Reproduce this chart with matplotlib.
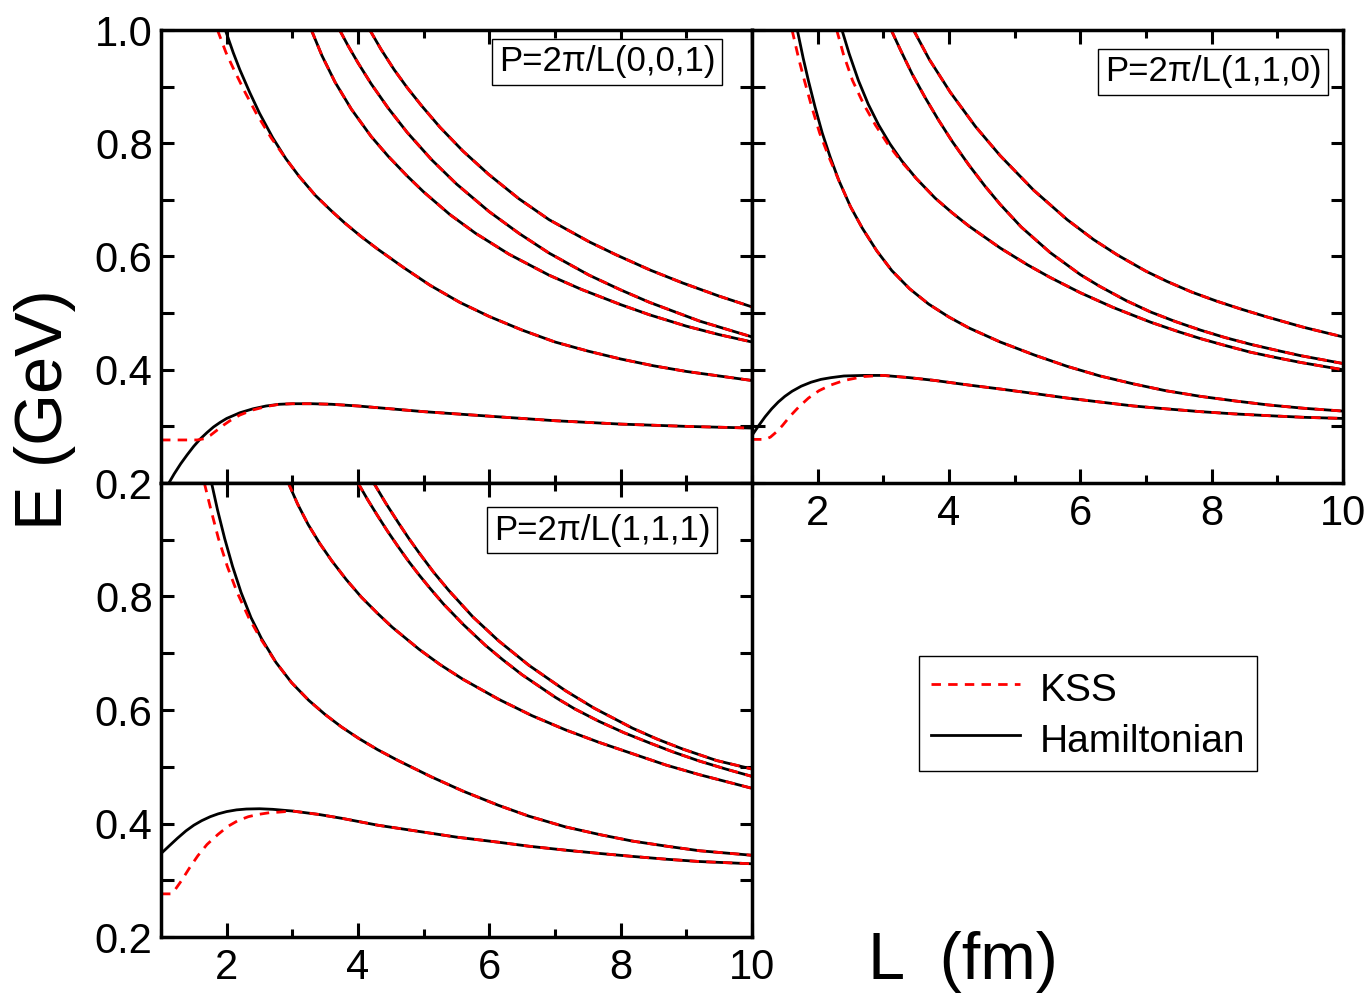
import matplotlib.pyplot as plt
from matplotlib.lines import Line2D
from matplotlib.ticker import MultipleLocator, FixedLocator, FixedFormatter

plt.rcParams['font.family'] = ['Liberation Sans', 'DejaVu Sans']

# Energy levels E (GeV) vs box size L (fm).
# Hamiltonian curves are full; KSS curves only differ near threshold / small L,
# so for those only the deviating head is listed and the rest follows the
# Hamiltonian curve.

# ---------- P = 2pi/L (0,0,1) ----------
gs001_L = [1.12, 1.2, 1.3, 1.4, 1.5, 1.6, 1.7, 1.8, 1.9, 2.0, 2.2, 2.4, 2.6, 2.8, 3.0,
           3.3, 3.6, 4.0, 4.5, 5.0, 5.5, 6.0, 7.0, 8.0, 9.0, 10.0]
gs001_E = [0.200, 0.216, 0.234, 0.250, 0.265, 0.278, 0.289, 0.299, 0.307, 0.314, 0.324,
           0.331, 0.336, 0.339, 0.340, 0.340, 0.339, 0.336, 0.331, 0.326, 0.322, 0.318,
           0.310, 0.304, 0.300, 0.297]
gs001_kss_L = [1.0, 1.55, 1.65, 1.75, 1.85, 1.95, 2.05, 2.2, 2.4, 2.6, 2.8, 3.0]
gs001_kss_E = [0.276, 0.276, 0.278, 0.284, 0.293, 0.302, 0.310, 0.320, 0.329, 0.335, 0.339, 0.340]
n1_001_L = [1.98, 2.1, 2.2, 2.35, 2.5, 2.7, 2.9, 3.1, 3.35, 3.6, 3.8, 4.05, 4.3, 4.7, 5.1,
            5.55, 6.0, 6.5, 7.0, 7.5, 8.0, 8.5, 9.0, 9.5, 10.0]
n1_001_E = [1.0, 0.96, 0.93, 0.89, 0.853, 0.81, 0.773, 0.742, 0.708, 0.68, 0.659, 0.635,
            0.613, 0.580, 0.549, 0.519, 0.494, 0.470, 0.449, 0.433, 0.419, 0.407, 0.397,
            0.389, 0.381]
n1_001_kss_L = [1.86, 1.99, 2.11, 2.28, 2.45, 2.675, 2.9]
n1_001_kss_E = [1.0, 0.96, 0.93, 0.89, 0.853, 0.81, 0.773]
n2_001_L = [3.29, 3.45, 3.65, 3.9, 4.2, 4.46, 4.75, 5.0, 5.4, 5.79, 6.3, 6.91, 7.4, 8.0,
            8.44, 9.0, 9.5, 10.0]
n2_001_E = [1.0, 0.955, 0.908, 0.86, 0.812, 0.777, 0.742, 0.714, 0.674, 0.641, 0.604,
            0.567, 0.542, 0.515, 0.497, 0.477, 0.462, 0.449]
n3_001_L = [3.72, 3.85, 4.0, 4.2, 4.46, 4.75, 5.12, 5.5, 6.0, 6.45, 6.91, 7.52, 8.0, 8.44,
            9.2, 10.0]
n3_001_E = [1.0, 0.972, 0.942, 0.905, 0.862, 0.819, 0.771, 0.728, 0.679, 0.641, 0.606,
            0.567, 0.541, 0.519, 0.486, 0.458]
n4_001_L = [4.18, 4.35, 4.55, 4.75, 4.97, 5.25, 5.6, 5.99, 6.45, 6.91, 7.52, 7.93, 8.45,
            8.95, 9.5, 10.0]
n4_001_E = [1.0, 0.966, 0.93, 0.898, 0.866, 0.828, 0.786, 0.745, 0.702, 0.665, 0.626,
            0.603, 0.576, 0.553, 0.530, 0.511]

# ---------- P = 2pi/L (1,1,0) ----------
gs110_L = [1.0, 1.1, 1.2, 1.3, 1.4, 1.5, 1.61, 1.75, 1.9, 2.05, 2.2, 2.4, 2.7, 3.0, 3.4,
           3.79, 4.3, 4.78, 5.3, 5.8, 6.3, 6.81, 7.3, 7.83, 8.35, 8.85, 9.4, 10.0]
gs110_E = [0.284, 0.301, 0.317, 0.331, 0.343, 0.353, 0.362, 0.371, 0.378, 0.383, 0.386,
           0.389, 0.390, 0.390, 0.386, 0.381, 0.373, 0.366, 0.358, 0.350, 0.343, 0.336,
           0.331, 0.326, 0.322, 0.319, 0.316, 0.314]
gs110_kss_L = [1.0, 1.2, 1.28, 1.37, 1.46, 1.58, 1.71, 1.86, 2.02, 2.2, 2.4, 2.7, 3.0]
gs110_kss_E = [0.277, 0.277, 0.281, 0.290, 0.301, 0.318, 0.334, 0.350, 0.363, 0.373,
               0.381, 0.388, 0.390]
n1_110_L = [1.69, 1.78, 1.86, 1.96, 2.07, 2.19, 2.32, 2.5, 2.68, 2.9, 3.13, 3.4, 3.69,
            4.0, 4.3, 4.78, 5.3, 5.8, 6.3, 6.81, 7.3, 7.83, 8.35, 8.85, 9.4, 10.0]
n1_110_E = [1.0, 0.95, 0.91, 0.864, 0.818, 0.776, 0.735, 0.688, 0.65, 0.61, 0.575, 0.543,
            0.516, 0.493, 0.474, 0.449, 0.426, 0.406, 0.389, 0.375, 0.363, 0.353, 0.345,
            0.338, 0.332, 0.327]
n1_110_kss_L = [1.61, 1.71, 1.80, 1.91, 2.03, 2.17, 2.32]
n1_110_kss_E = [1.0, 0.95, 0.91, 0.864, 0.818, 0.776, 0.735]
n2_110_L = [2.37, 2.48, 2.62, 2.77, 2.93, 3.1, 3.28, 3.5, 3.79, 4.05, 4.3, 4.78, 5.2, 5.54,
            6.0, 6.5, 7.07, 7.5, 7.83, 8.2, 8.59, 9.0, 9.35, 10.0]
n2_110_E = [1.0, 0.958, 0.911, 0.869, 0.832, 0.799, 0.769, 0.738, 0.703, 0.677, 0.654,
            0.615, 0.585, 0.563, 0.536, 0.510, 0.484, 0.467, 0.455, 0.443, 0.431, 0.421,
            0.413, 0.400]
n2_110_kss_L = [2.29, 2.39, 2.53, 2.70, 2.88, 3.065, 3.265, 3.5]
n2_110_kss_E = [1.0, 0.958, 0.911, 0.869, 0.832, 0.799, 0.769, 0.738]
n3_110_L = [3.12, 3.26, 3.44, 3.64, 3.84, 4.05, 4.3, 4.55, 4.78, 5.1, 5.54, 6.0, 6.3, 6.7,
            7.07, 7.45, 7.83, 8.2, 8.59, 9.0, 9.35, 10.0]
n3_110_E = [1.0, 0.965, 0.922, 0.88, 0.841, 0.803, 0.762, 0.724, 0.692, 0.652, 0.607,
            0.568, 0.547, 0.522, 0.502, 0.485, 0.470, 0.457, 0.445, 0.434, 0.425, 0.411]
n4_110_L = [3.46, 3.7, 4.02, 4.4, 4.78, 5.29, 5.8, 6.2, 6.56, 7.0, 7.32, 7.7, 8.08, 8.45,
            8.85, 9.4, 10.0]
n4_110_E = [1.0, 0.948, 0.89, 0.83, 0.778, 0.717, 0.665, 0.63, 0.603, 0.574, 0.556, 0.537,
            0.521, 0.507, 0.493, 0.475, 0.458]

# ---------- P = 2pi/L (1,1,1) ----------
gs111_L = [1.0, 1.12, 1.25, 1.38, 1.5, 1.62, 1.75, 1.87, 2.0, 2.15, 2.3, 2.5, 2.7, 3.0,
           3.4, 3.76, 4.3, 4.93, 5.5, 6.14, 6.6, 7.16, 7.7, 8.18, 8.7, 9.2, 9.6, 10.0]
gs111_E = [0.347, 0.360, 0.374, 0.387, 0.397, 0.405, 0.412, 0.417, 0.421, 0.424, 0.4255,
           0.426, 0.425, 0.422, 0.416, 0.409, 0.397, 0.386, 0.376, 0.367, 0.360, 0.353,
           0.347, 0.342, 0.337, 0.333, 0.331, 0.329]
gs111_kss_L = [1.0, 1.15, 1.2, 1.31, 1.43, 1.56, 1.7, 1.87, 2.02, 2.17, 2.33, 2.48, 2.65,
               2.79, 3.0]
gs111_kss_E = [0.276, 0.276, 0.281, 0.299, 0.321, 0.343, 0.363, 0.381, 0.395, 0.405,
               0.412, 0.416, 0.419, 0.420, 0.422]
n1_111_L = [1.77, 1.86, 1.97, 2.09, 2.22, 2.37, 2.53, 2.75, 2.99, 3.25, 3.5, 3.75, 4.01,
            4.3, 4.61, 5.12, 5.6, 6.14, 6.6, 7.16, 7.7, 8.18, 8.7, 9.2, 9.6, 10.0]
n1_111_E = [1.0, 0.953, 0.902, 0.853, 0.807, 0.763, 0.726, 0.684, 0.648, 0.617, 0.592,
            0.570, 0.550, 0.530, 0.511, 0.482, 0.457, 0.432, 0.413, 0.394, 0.380, 0.369,
            0.360, 0.352, 0.348, 0.344]
n1_111_kss_L = [1.66, 1.76, 1.875, 2.01, 2.16, 2.335, 2.515, 2.75]
n1_111_kss_E = [1.0, 0.953, 0.902, 0.853, 0.807, 0.763, 0.726, 0.684]
n2_111_L = [2.94, 3.08, 3.24, 3.42, 3.6, 3.82, 4.05, 4.3, 4.52, 4.93, 5.25, 5.6, 6.14,
            6.65, 7.16, 7.67, 8.18, 8.69, 9.2, 9.6, 10.0]
n2_111_E = [1.0, 0.963, 0.927, 0.893, 0.863, 0.83, 0.799, 0.77, 0.746, 0.707, 0.68, 0.654,
            0.619, 0.590, 0.565, 0.543, 0.523, 0.503, 0.486, 0.474, 0.462]
n3_111_L = [4.0, 4.15, 4.3, 4.45, 4.61, 4.77, 4.93, 5.1, 5.3, 5.6, 5.94, 6.2, 6.5, 7.01,
            7.3, 7.67, 8.05, 8.44, 8.8, 9.2, 9.6, 10.0]
n3_111_E = [1.0, 0.97, 0.942, 0.915, 0.888, 0.862, 0.838, 0.814, 0.787, 0.751, 0.714,
            0.689, 0.662, 0.622, 0.602, 0.580, 0.560, 0.542, 0.526, 0.510, 0.496, 0.483]
n4_111_L = [4.24, 4.42, 4.62, 4.77, 4.93, 5.15, 5.38, 5.75, 6.14, 6.6, 7.16, 7.6, 8.18,
            8.55, 8.95, 9.46, 10.0]
n4_111_E = [1.0, 0.965, 0.929, 0.903, 0.877, 0.843, 0.811, 0.764, 0.722, 0.679, 0.634,
            0.603, 0.568, 0.549, 0.531, 0.511, 0.496]

panel_labels = ['P=2\u03c0/L(0,0,1)', 'P=2\u03c0/L(1,1,0)', 'P=2\u03c0/L(1,1,1)']
x_ticks = [2, 4, 6, 8, 10]
y_ticks = [0.2, 0.4, 0.6, 0.8, 1.0]

# per panel: list of (hamiltonian L, hamiltonian E, kss head L, kss head E)
panels = [
    [(gs001_L, gs001_E, gs001_kss_L, gs001_kss_E),
     (n1_001_L, n1_001_E, n1_001_kss_L, n1_001_kss_E),
     (n2_001_L, n2_001_E, [], []),
     (n3_001_L, n3_001_E, [], []),
     (n4_001_L, n4_001_E, [], [])],
    [(gs110_L, gs110_E, gs110_kss_L, gs110_kss_E),
     (n1_110_L, n1_110_E, n1_110_kss_L, n1_110_kss_E),
     (n2_110_L, n2_110_E, n2_110_kss_L, n2_110_kss_E),
     (n3_110_L, n3_110_E, [], []),
     (n4_110_L, n4_110_E, [], [])],
    [(gs111_L, gs111_E, gs111_kss_L, gs111_kss_E),
     (n1_111_L, n1_111_E, n1_111_kss_L, n1_111_kss_E),
     (n2_111_L, n2_111_E, [], []),
     (n3_111_L, n3_111_E, [], []),
     (n4_111_L, n4_111_E, [], [])],
]


def kss_curve(hL, hE, kL, kE):
    # KSS head, then the shared part of the Hamiltonian curve
    if not kL:
        return hL, hE
    tail = [(l, e) for l, e in zip(hL, hE) if l > kL[-1]]
    return kL + [t[0] for t in tail], kE + [t[1] for t in tail]


W, H = 1371, 996
fig = plt.figure(figsize=(W / 100, H / 100), dpi=100)

# panel rectangles in pixels: left, top, right, bottom
boxes = [(161, 30, 752, 483), (752, 30, 1343, 483), (161, 483, 752, 937)]
label_pos = [(607, 62), (1213, 72), (602, 530)]

KSS_STYLE = dict(color='red', lw=2.0, dashes=(3.4, 2.6))
HAM_STYLE = dict(color='black', lw=2.0)
FS = 30

axes = []
for i, (l, t, r, b) in enumerate(boxes):
    ax = fig.add_axes([l / W, 1 - b / H, (r - l) / W, (b - t) / H])
    axes.append(ax)
    for hL, hE, kL, kE in panels[i]:
        ax.plot(hL, hE, **HAM_STYLE)
    for hL, hE, kL, kE in panels[i]:
        sL, sE = kss_curve(hL, hE, kL, kE)
        ax.plot(sL, sE, **KSS_STYLE)
    ax.set_xlim(1, 10)
    ax.set_ylim(0.2, 1.0)
    ax.xaxis.set_major_locator(FixedLocator(x_ticks))
    ax.xaxis.set_minor_locator(MultipleLocator(1))
    ax.yaxis.set_major_locator(FixedLocator(y_ticks))
    ax.yaxis.set_minor_locator(MultipleLocator(0.1))
    ax.tick_params(which='both', direction='in', top=True, right=True,
                   width=2.2, labelsize=FS)
    ax.tick_params(axis='x', which='major', length=10, pad=8)
    ax.tick_params(axis='x', which='minor', length=6)
    ax.tick_params(axis='y', which='both', length=9, pad=6)
    for sp in ax.spines.values():
        sp.set_linewidth(2.5)
    ax.text((label_pos[i][0] - l) / (r - l), 1 - (label_pos[i][1] - t) / (b - t),
            panel_labels[i], transform=ax.transAxes, ha='center', va='center',
            fontsize=25,
            bbox=dict(boxstyle='square,pad=0.2', fc='white', ec='black', lw=1.0))

ax1, ax2, ax3 = axes
ax1.tick_params(labelbottom=False)
ax1.yaxis.set_major_formatter(FixedFormatter(['0.2', '0.4', '0.6', '0.8', '1.0']))
ax2.tick_params(labelleft=False)
ax2.xaxis.set_major_formatter(FixedFormatter([str(v) for v in x_ticks]))
ax3.yaxis.set_major_formatter(FixedFormatter(['0.2', '0.4', '0.6', '0.8', '']))
ax3.xaxis.set_major_formatter(FixedFormatter([str(v) for v in x_ticks]))

fig.text(45 / W, 1 - 410 / H, 'E (GeV)', rotation=90, ha='center', va='center', fontsize=48)
fig.text(963 / W, 1 - 962 / H, 'L  (fm)', ha='center', va='center', fontsize=48)

handles = [Line2D([], [], **KSS_STYLE), Line2D([], [], **HAM_STYLE)]
leg = fig.legend(handles, ['KSS', 'Hamiltonian'], loc='upper left',
                 bbox_to_anchor=(919 / W, 1 - 656 / H), borderaxespad=0,
                 fontsize=28, frameon=True, fancybox=False, edgecolor='black',
                 framealpha=1, handlelength=2.3, handletextpad=0.5,
                 handleheight=1.2, borderpad=0.3, labelspacing=0.25)
leg.get_frame().set_linewidth(1.0)

fig.savefig('out.png', dpi=100)
